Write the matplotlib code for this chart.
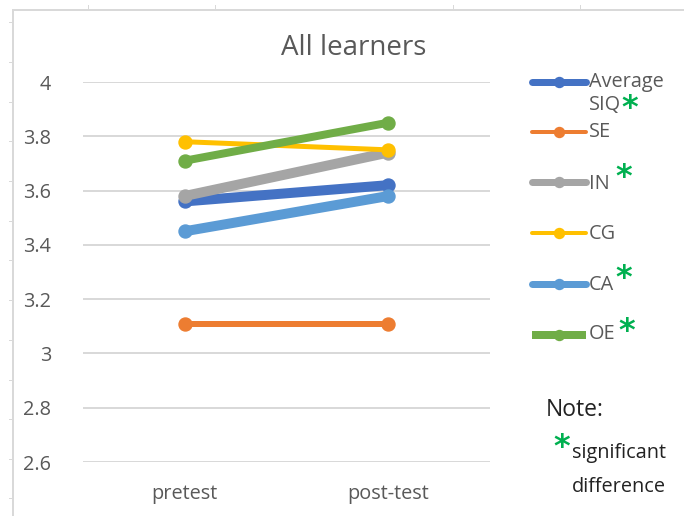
import matplotlib
matplotlib.use("Agg")
import matplotlib.pyplot as plt
from matplotlib.lines import Line2D

# ---- data -------------------------------------------------------------
phases = ["pretest", "post-test"]
series_names = ["Average SIQ", "SE", "IN", "CG", "CA", "OE"]
pretest = [3.56, 3.11, 3.58, 3.78, 3.45, 3.71]
posttest = [3.62, 3.11, 3.74, 3.75, 3.58, 3.85]
significant = [True, False, True, False, True, True]
y_ticks = [2.6, 2.8, 3.0, 3.2, 3.4, 3.6, 3.8, 4.0]
y_tick_labels = ["2.6", "2.8", "3", "3.2", "3.4", "3.6", "3.8", "4"]

# ---- styling ----------------------------------------------------------
colors = ["#4472C4", "#ED7D31", "#A5A5A5", "#FFC000", "#5B9BD5", "#70AD47"]
line_px = [10, 6, 10, 5, 10, 8]          # line widths in pixels
legend_px = [7, 4, 7, 4, 7, 8]
TEXT = "#595959"
GRID = "#D9D9D9"
STAR = "#00B050"
FONT = "Open Sans"
LABEL_SIZE = 14.3

W, H, DPI = 684, 516, 100
PX = 72.0 / DPI  # points per pixel

fig = plt.figure(figsize=(W / DPI, H / DPI), dpi=DPI)


def fx(x):
    return x / W


def fy(y):
    return 1 - y / H


# plot area
ax = fig.add_axes([fx(83), fy(462), (490 - 83) / W, (462 - 82) / H])
ax.set_xlim(-0.5, 1.5)
ax.set_ylim(2.6, 4.0)
for s in ax.spines.values():
    s.set_visible(False)
ax.set_yticks(y_ticks)
ax.set_yticklabels(y_tick_labels)
ax.set_xticks([0, 1])
ax.set_xticklabels(phases)
ax.tick_params(length=0, labelsize=LABEL_SIZE, labelcolor=TEXT)
ax.tick_params(axis="y", pad=23)
ax.tick_params(axis="x", pad=16)
for lab in ax.get_xticklabels() + ax.get_yticklabels():
    lab.set_fontfamily(FONT)
for yv in y_ticks:
    ax.axhline(yv, color=GRID, lw=2 * PX, zorder=0)

for name, c, lw, a, b in zip(series_names, colors, line_px, pretest, posttest):
    ax.plot([0, 1], [a, b], color=c, lw=lw * PX, marker="o",
            markersize=13 * PX, solid_capstyle="round",
            clip_on=False, label=name)

# title
fig.text(fx(354), fy(48), "All learners", ha="center", va="center",
         fontsize=20, color=TEXT, family=FONT)

# legend, drawn in figure space
legend_line_y = [82, 132, 182, 233, 284, 335]
for i, (name, c) in enumerate(zip(series_names, colors)):
    y = legend_line_y[i]
    cap = "butt" if i == 5 else "round"
    fig.add_artist(Line2D([fx(532), fx(586)], [fy(y), fy(y)], color=c,
                          lw=legend_px[i] * PX, solid_capstyle=cap,
                          transform=fig.transFigure))
    fig.add_artist(Line2D([fx(559)], [fy(y)], color=c, marker="o",
                          markersize=10 * PX, lw=0,
                          transform=fig.transFigure))

legend_text = [("Average", 82), ("SIQ", 105), ("SE", 132), ("IN", 184),
               ("CG", 234), ("CA", 285), ("OE", 334)]
for t, y in legend_text:
    fig.text(fx(589), fy(y), t, ha="left", va="center", fontsize=LABEL_SIZE,
             color=TEXT, family=FONT)

# significance markers
star_pos = [(630, 103), (624, 172), (624, 273), (627, 326)]
for x, y in star_pos:
    fig.text(fx(x), fy(y + 14), "*", ha="center", va="baseline",
             fontsize=23, color=STAR, family="DejaVu Sans",
             fontweight="bold")

# note
fig.text(fx(546), fy(410), "Note:", ha="left", va="center", fontsize=16.5,
         color="#222222", family=FONT)
fig.text(fx(562), fy(442 + 14), "*", ha="center", va="baseline",
         fontsize=23, color=STAR, family="DejaVu Sans", fontweight="bold")
fig.text(fx(572), fy(453), "significant", ha="left", va="center",
         fontsize=LABEL_SIZE, color="#222222", family=FONT)
fig.text(fx(572), fy(487), "difference", ha="left", va="center",
         fontsize=LABEL_SIZE, color="#222222", family=FONT)

# surrounding frame with ruler ticks
FRAME = "#D9D9D9"
fig.add_artist(Line2D([fx(13), fx(W)], [fy(10), fy(10)], color=FRAME,
                      lw=2 * PX, transform=fig.transFigure))
fig.add_artist(Line2D([fx(13), fx(13)], [fy(10), fy(H)], color=FRAME,
                      lw=2 * PX, transform=fig.transFigure))
for x in [88, 215, 453, 580]:
    fig.add_artist(Line2D([fx(x), fx(x)], [fy(5), fy(10)], color=FRAME,
                          lw=1 * PX, transform=fig.transFigure))
for y in [22, 62, 102, 141, 181, 221, 260, 300, 340, 380, 419, 459, 498]:
    fig.add_artist(Line2D([fx(9), fx(13)], [fy(y), fy(y)], color=FRAME,
                          lw=1 * PX, transform=fig.transFigure))

fig.savefig("out.png", dpi=DPI)
